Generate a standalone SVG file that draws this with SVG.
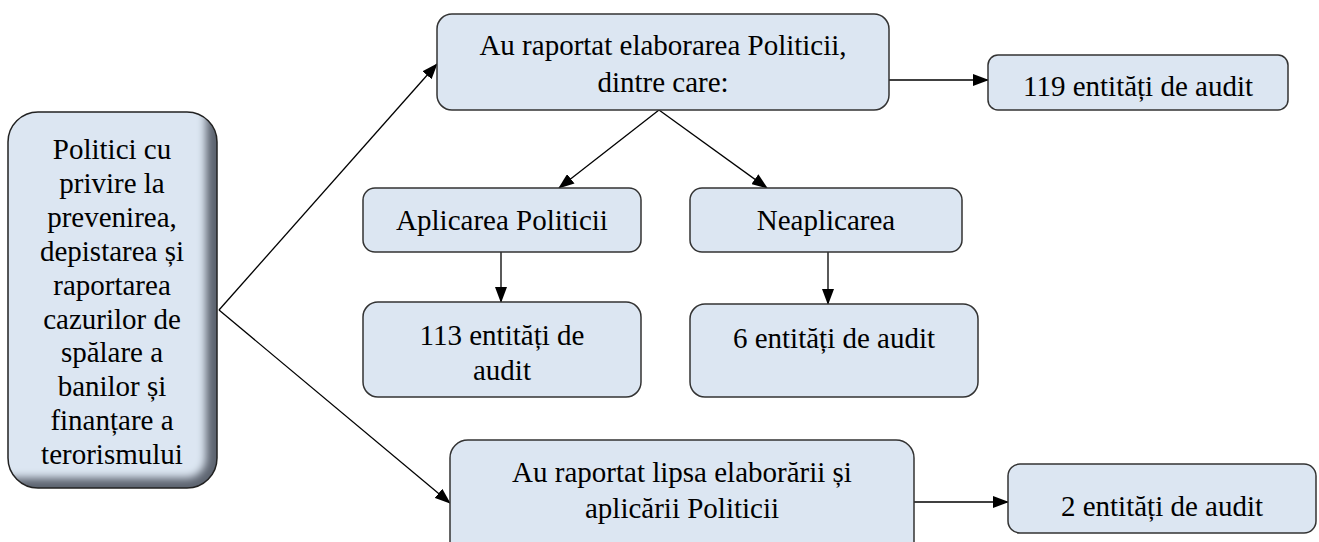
<svg xmlns="http://www.w3.org/2000/svg" width="1319" height="542" viewBox="0 0 1319 542">
<style>
.box{fill:#dce6f2;stroke:#333;stroke-width:1.5}
.t{font-family:"Liberation Serif","Times New Roman",serif;font-size:29px;fill:#000;text-anchor:middle}
.c{stroke:#000;stroke-width:1.3;fill:none;marker-end:url(#ah)}
</style>
<defs>
<marker id="ah" markerWidth="16" markerHeight="12" refX="15" refY="6" orient="auto" markerUnits="userSpaceOnUse">
<path d="M0,0 L16,6 L0,12 Z" fill="#000"/>
</marker>
<clipPath id="lc"><rect x="8" y="112" width="209" height="376" rx="30"/></clipPath>
<filter id="bl" x="-20%" y="-20%" width="140%" height="140%"><feGaussianBlur stdDeviation="4"/></filter>
</defs>
<g id="connectors">
<line class="c" x1="219" y1="310" x2="437" y2="64"/>
<line class="c" x1="219" y1="310" x2="450" y2="503"/>
<line class="c" x1="659" y1="110" x2="559" y2="188"/>
<line class="c" x1="659" y1="110" x2="767" y2="188"/>
<line class="c" x1="501" y1="252" x2="501" y2="302"/>
<line class="c" x1="828" y1="237" x2="828" y2="304"/>
<line class="c" x1="889" y1="80" x2="988" y2="80"/>
<line class="c" x1="914" y1="502" x2="1008" y2="502"/>
</g>
<g id="n-root">
<rect x="8" y="112" width="209" height="376" rx="30" fill="#5d6470"/>
<g clip-path="url(#lc)"><rect x="-20" y="90" width="226" height="388" rx="20" fill="#dce6f2" filter="url(#bl)"/></g>
<rect x="8" y="112" width="209" height="376" rx="30" fill="none" stroke="#222" stroke-width="1.5"/>
<text class="t" x="112" y="159">Politici cu</text>
<text class="t" x="112" y="193">privire la</text>
<text class="t" x="112" y="227">prevenirea,</text>
<text class="t" x="112" y="261">depistarea și</text>
<text class="t" x="112" y="295">raportarea</text>
<text class="t" x="112" y="329">cazurilor de</text>
<text class="t" x="112" y="362">spălare a</text>
<text class="t" x="112" y="396">banilor și</text>
<text class="t" x="112" y="430">finanțare a</text>
<text class="t" x="112" y="464">terorismului</text>
</g>
<g id="n-elab">
<rect class="box" x="437" y="14" width="452" height="96" rx="15"/>
<text class="t" x="663" y="55">Au raportat elaborarea Politicii,</text>
<text class="t" x="663" y="92">dintre care:</text>
</g>
<g id="n-119">
<rect class="box" x="988" y="55" width="300" height="55" rx="10"/>
<text class="t" x="1138" y="96">119 entități de audit</text>
</g>
<g id="n-aplic">
<rect class="box" x="363" y="188" width="278" height="64" rx="12"/>
<text class="t" x="502" y="230">Aplicarea Politicii</text>
</g>
<g id="n-neaplic">
<rect class="box" x="690" y="188" width="272" height="64" rx="12"/>
<text class="t" x="826" y="230">Neaplicarea</text>
</g>
<g id="n-113">
<rect class="box" x="363" y="302" width="278" height="95" rx="15"/>
<text class="t" x="502" y="345">113 entități de</text>
<text class="t" x="502" y="380">audit</text>
</g>
<g id="n-6">
<rect class="box" x="690" y="304" width="288" height="93" rx="15"/>
<text class="t" x="834" y="348">6 entități de audit</text>
</g>
<g id="n-lipsa">
<rect class="box" x="450" y="440" width="464" height="120" rx="18"/>
<text class="t" x="682" y="482">Au raportat lipsa elaborării și</text>
<text class="t" x="682" y="518">aplicării Politicii</text>
</g>
<g id="n-2">
<rect class="box" x="1008" y="464" width="308" height="69" rx="12"/>
<text class="t" x="1162" y="516">2 entități de audit</text>
</g>
</svg>
